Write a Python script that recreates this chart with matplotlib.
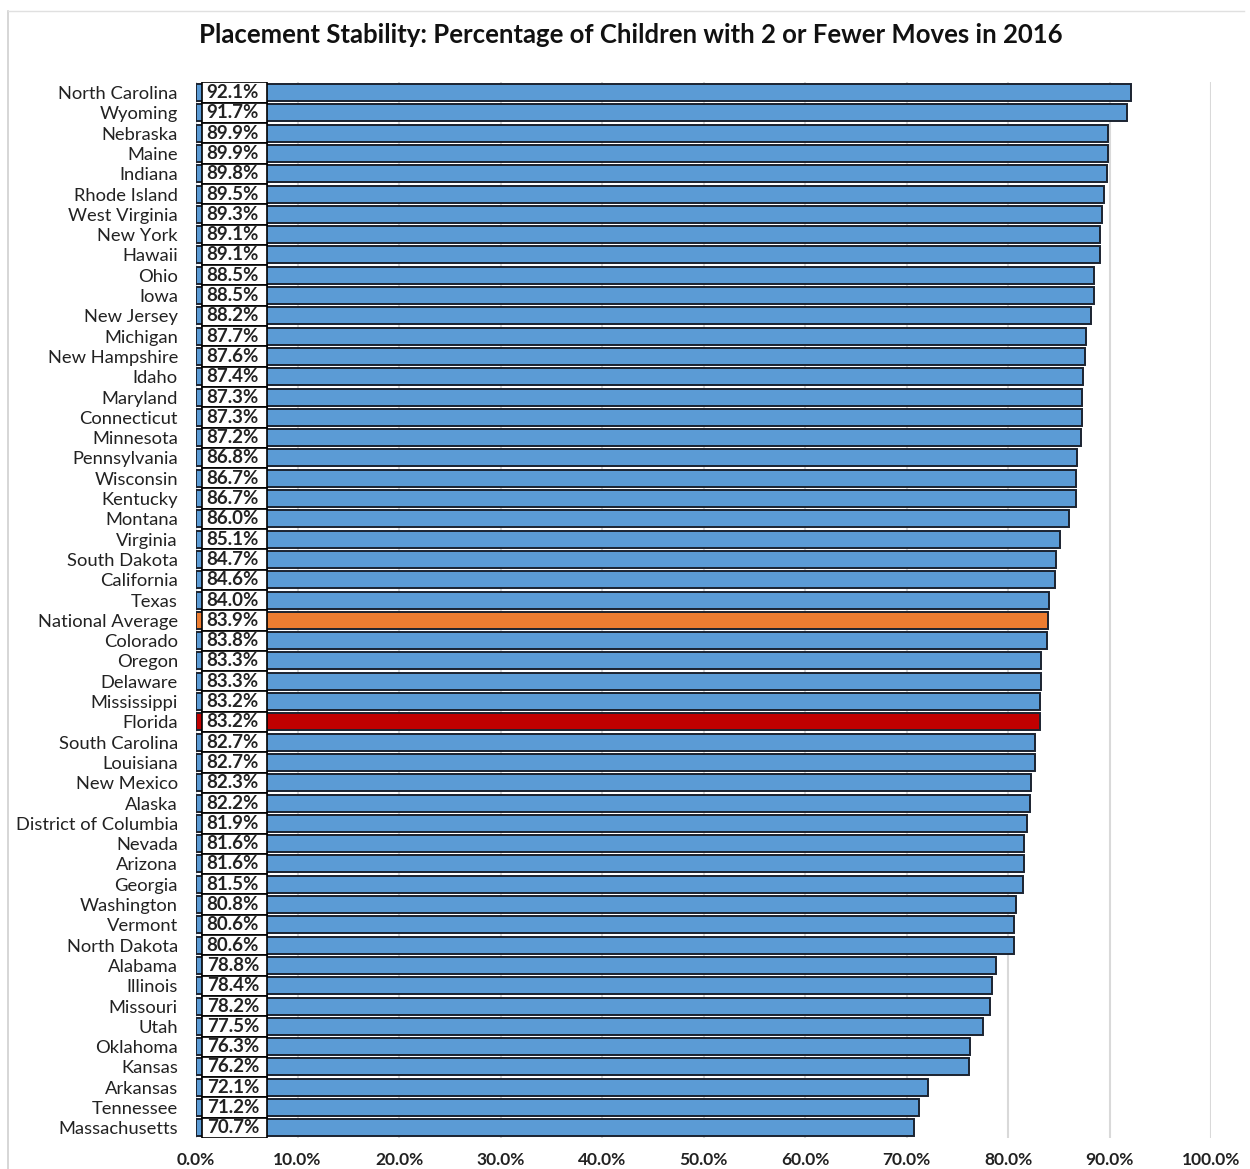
import matplotlib.pyplot as plt
from matplotlib.ticker import FuncFormatter, MultipleLocator
from matplotlib.lines import Line2D

states = [
    "North Carolina", "Wyoming", "Nebraska", "Maine", "Indiana", "Rhode Island",
    "West Virginia", "New York", "Hawaii", "Ohio", "Iowa", "New Jersey",
    "Michigan", "New Hampshire", "Idaho", "Maryland", "Connecticut", "Minnesota",
    "Pennsylvania", "Wisconsin", "Kentucky", "Montana", "Virginia", "South Dakota",
    "California", "Texas", "National Average", "Colorado", "Oregon", "Delaware",
    "Mississippi", "Florida", "South Carolina", "Louisiana", "New Mexico", "Alaska",
    "District of Columbia", "Nevada", "Arizona", "Georgia", "Washington", "Vermont",
    "North Dakota", "Alabama", "Illinois", "Missouri", "Utah", "Oklahoma",
    "Kansas", "Arkansas", "Tennessee", "Massachusetts",
]
values = [
    92.1, 91.7, 89.9, 89.9, 89.8, 89.5, 89.3, 89.1, 89.1, 88.5, 88.5, 88.2,
    87.7, 87.6, 87.4, 87.3, 87.3, 87.2, 86.8, 86.7, 86.7, 86.0, 85.1, 84.7,
    84.6, 84.0, 83.9, 83.8, 83.3, 83.3, 83.2, 83.2, 82.7, 82.7, 82.3, 82.2,
    81.9, 81.6, 81.6, 81.5, 80.8, 80.6, 80.6, 78.8, 78.4, 78.2, 77.5, 76.3,
    76.2, 72.1, 71.2, 70.7,
]
highlight = {"National Average": "#ED7D31", "Florida": "#C00000"}

font = ["Lato", "DejaVu Sans"]
plt.rcParams["font.family"] = font

fig = plt.figure(figsize=(12.5, 11.69), dpi=100)
ax = fig.add_axes([0.1568, 0.0265, 0.812, 0.903])

frac = [v / 100 for v in values]
ypos = list(range(len(states)))
colors = [highlight.get(s, "#5B9BD5") for s in states]

ax.barh(ypos, frac, height=0.84, color=colors, edgecolor="#1b2330",
        linewidth=1.4, zorder=3)

# white value boxes at the start of each bar
ax.barh(ypos, [0.064] * len(states), left=0.006, height=1.0, color="white",
        edgecolor="black", linewidth=1.2, zorder=4)
for y, v in zip(ypos, values):
    ax.text(0.0105, y, f"{v:.1f}%", va="center", ha="left", fontsize=13.5,
            fontweight="bold", color="#222222", zorder=5)

ax.set_ylim(len(states) - 0.5, -0.5)
ax.set_xlim(0, 1.0)
ax.set_yticks(ypos)
ax.set_yticklabels(states, fontsize=13.2, color="#222222")
ax.xaxis.set_major_locator(MultipleLocator(0.1))
ax.xaxis.set_major_formatter(FuncFormatter(lambda x, p: f"{x * 100:.1f}%"))
for lab in ax.get_xticklabels():
    lab.set_fontweight("bold")
    lab.set_fontsize(12.5)
ax.tick_params(axis="y", length=0, pad=13)
ax.tick_params(axis="x", length=0, pad=10, colors="#222222")
ax.grid(axis="x", color="#d9d9d9", linewidth=1.5, zorder=0)
for sp in ax.spines.values():
    sp.set_visible(False)

fig.text(0.505, 0.970, "Placement Stability: Percentage of Children with 2 or Fewer Moves in 2016",
         ha="center", va="center", fontsize=18.5, fontweight="bold", color="#111111")

# light outer frame of the chart area
fig.add_artist(Line2D([0.0065, 0.0065], [0.0, 0.991], color="#d0d0d0", linewidth=1.2))
fig.add_artist(Line2D([0.0065, 0.995], [0.991, 0.991], color="#e0e0e0", linewidth=1.0))

fig.savefig("out.png", dpi=100, facecolor="white")
